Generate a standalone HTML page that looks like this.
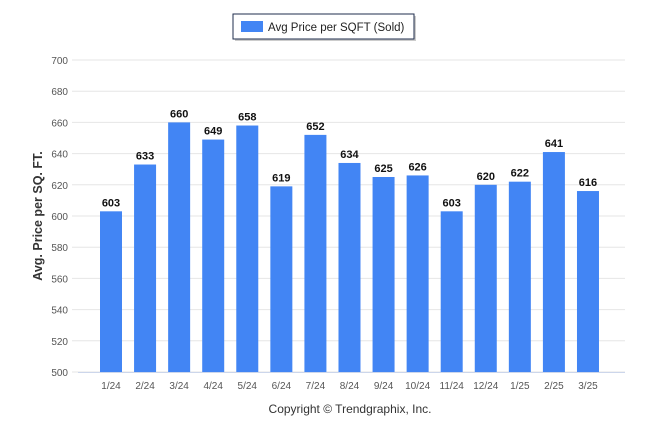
<!DOCTYPE html>
<html><head><meta charset="utf-8"><style>
body{margin:0;background:#fff;font-family:"Liberation Sans",sans-serif}
svg text{font-family:"Liberation Sans",sans-serif}
</style></head><body>
<svg width="646" height="434" xmlns="http://www.w3.org/2000/svg">
<rect x="0" y="0" width="646" height="434" fill="#fff"/>
<g>
<rect x="235" y="16" width="181" height="25" fill="#999" opacity="0.5"/>
<rect x="233" y="14" width="181" height="25" fill="#fff" stroke="#1f2e4d" stroke-width="1"/>
<rect x="241" y="21" width="22" height="11" fill="#4285f4"/>
<text x="268" y="31" font-size="11.5" fill="#222">Avg Price per SQFT (Sold)</text>
</g>
<g id="grid"></g>
<g id="bars"></g>
<text transform="translate(42,216) rotate(-90)" text-anchor="middle" font-size="12.5" font-weight="bold" fill="#333">Avg. Price per SQ. FT.</text>
<text x="350" y="413" text-anchor="middle" font-size="12" fill="#333">Copyright © Trendgraphix, Inc.</text>
</svg>
<script>
const categories=["1/24","2/24","3/24","4/24","5/24","6/24","7/24","8/24","9/24","10/24","11/24","12/24","1/25","2/25","3/25"];
const values=[603,633,660,649,658,619,652,634,625,626,603,620,622,641,616];
const yTicks=[500,520,540,560,580,600,620,640,660,680,700];
const NS="http://www.w3.org/2000/svg";
const yMin=500,yMax=700,plotTop=60,plotBottom=372;
function yScale(v){return plotBottom-(v-yMin)/(yMax-yMin)*(plotBottom-plotTop);}
function xScale(i){return 111+i*34.07;}
const grid=document.getElementById('grid'),bars=document.getElementById('bars');
function mk(tag,attrs,parent,txt){const e=document.createElementNS(NS,tag);for(const k in attrs)e.setAttribute(k,attrs[k]);if(txt!==undefined)e.textContent=txt;parent.appendChild(e);return e;}
yTicks.forEach(t=>{
 const l=mk('line',{x1:72,x2:625,y1:yScale(t),y2:yScale(t),stroke:'#e6e6e6','stroke-width':1},grid);
 
 
 const tx=mk('text',{x:68,y:yScale(t)+4,'text-anchor':'end','font-size':10,fill:'#555'},grid,t);
 
 
});
const ax=mk('line',{x1:78,x2:625,y1:plotBottom+0.5,y2:plotBottom+0.5,stroke:'#ccd6eb','stroke-width':1},grid);


categories.forEach((c,i)=>{
 const v=values[i];
 const r=mk('rect',{x:xScale(i)-11,y:yScale(v),width:22,height:plotBottom-yScale(v),fill:'#4285f4'},bars);
 
 
 const lb=mk('text',{x:xScale(i),y:yScale(v)-5,'text-anchor':'middle','font-size':11,'font-weight':'bold',fill:'#111'},bars,v);
 
 
 const xt=mk('text',{x:xScale(i),y:plotBottom+17,'text-anchor':'middle','font-size':10,fill:'#555'},bars,c);
 
 
});
</script>
</body></html>
